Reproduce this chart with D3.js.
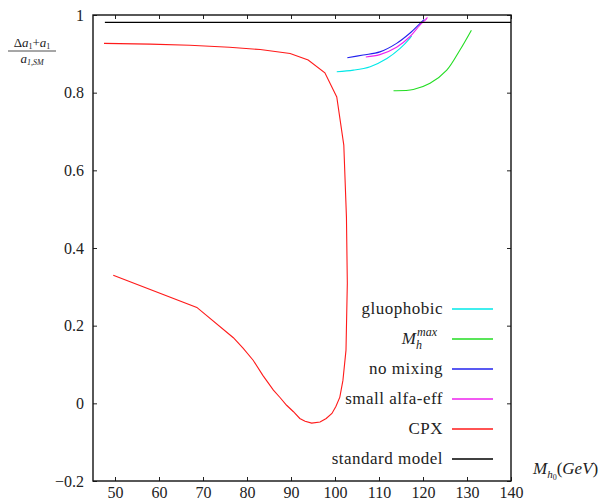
<!DOCTYPE html>
<html>
<head>
<meta charset="utf-8">
<script src="https://cdn.jsdelivr.net/npm/d3@7"></script>
<style>
  body { margin: 0; background: #fff; }
  svg text { font-family: "Liberation Serif", "Times New Roman", "DejaVu Serif", serif !important; fill: #222; }
</style>
</head>
<body>
<svg id="chart" width="609" height="502" font-family="Liberation Serif"></svg>
<script>
// === Data ===
const xTicks = [50, 60, 70, 80, 90, 100, 110, 120, 130, 140];
const yTicks = [-0.2, 0, 0.2, 0.4, 0.6, 0.8, 1];

const smX = [47.7, 140];
const smY = [0.981, 0.981];

const cpxX = [47.5, 58, 67, 76, 83, 89.8, 93.9, 97.7, 100.4, 102.0, 102.6, 102.8, 102.5, 101.8, 101.1, 100.2, 99.3, 98.0, 96.6, 94.7, 93.2, 92.0, 90.5, 89.0, 87.5, 86.0, 83.6, 81.4, 79.1, 76.9, 68.6, 49.6];
const cpxY = [0.927, 0.925, 0.922, 0.917, 0.911, 0.901, 0.884, 0.851, 0.789, 0.665, 0.48, 0.309, 0.137, 0.059, 0.016, -0.008, -0.026, -0.039, -0.048, -0.051, -0.046, -0.039, -0.021, -0.005, 0.015, 0.034, 0.072, 0.111, 0.142, 0.169, 0.247, 0.330];

const smallX = [107.0, 110.2, 114.0, 117.0, 119.3, 120.7, 121.0, 120.6];
const smallY = [0.892, 0.898, 0.917, 0.944, 0.974, 0.989, 0.993, 0.990];

const noMixX = [102.8, 106.4, 110.2, 114.0, 117.0, 119.3, 120.3];
const noMixY = [0.890, 0.897, 0.905, 0.927, 0.953, 0.978, 0.989];

const mhmaxX = [113.3, 117.8, 121.6, 125.4, 128.4, 131.0];
const mhmaxY = [0.805, 0.808, 0.824, 0.858, 0.910, 0.961];

const gluoX = [100.4, 104.2, 108.0, 111.8, 114.8, 117.0, 117.4];
const gluoY = [0.854, 0.858, 0.867, 0.888, 0.914, 0.940, 0.946];

const series = [
  { key: "gluophobic", xs: gluoX, ys: gluoY, color: "#00e8e8", smooth: true },
  { key: "mhmax", xs: mhmaxX, ys: mhmaxY, color: "#22dd22", smooth: true },
  { key: "no mixing", xs: noMixX, ys: noMixY, color: "#2222ee", smooth: true },
  { key: "small alfa-eff", xs: smallX, ys: smallY, color: "#ee22ee", smooth: true },
  { key: "CPX", xs: cpxX, ys: cpxY, color: "#ff1a1a", smooth: false },
  { key: "standard model", xs: smX, ys: smY, color: "#000", smooth: false }
];

// === Layout ===
const svg = d3.select("#chart");
const margin = { left: 93, right: 98, top: 15, bottom: 21 };
const W = 609, H = 502;
const x = d3.scaleLinear().domain([45, 140]).range([margin.left, W - margin.right]);
const y = d3.scaleLinear().domain([-0.2, 1]).range([H - margin.bottom, margin.top]);

const fmt = v => (v === 0 ? "0" : v === 1 ? "1" : d3.format(".1f")(v).replace("-", "\u2212"));

// axes with inward ticks on every side
svg.append("g").attr("transform", `translate(0,${y(-0.2)})`)
  .call(d3.axisBottom(x).tickValues(xTicks).tickSize(-4).tickPadding(6).tickFormat(d3.format("d")))
  .call(g => g.select(".domain").remove())
  .call(g => g.selectAll("text").attr("font-size", 16));
svg.append("g").attr("transform", `translate(0,${y(1)})`)
  .call(d3.axisTop(x).tickValues(xTicks).tickSize(-4).tickFormat(""))
  .call(g => g.select(".domain").remove());
svg.append("g").attr("transform", `translate(${x(45)},0)`)
  .call(d3.axisLeft(y).tickValues(yTicks).tickSize(-4).tickPadding(9).tickFormat(fmt))
  .call(g => g.select(".domain").remove())
  .call(g => g.selectAll("text").attr("font-size", 16));
svg.append("g").attr("transform", `translate(${x(140)},0)`)
  .call(d3.axisRight(y).tickValues(yTicks).tickSize(-4).tickFormat(""))
  .call(g => g.select(".domain").remove());
svg.selectAll("g").attr("font-family", null);
svg.selectAll(".tick line").attr("stroke", "#222");

// frame
svg.append("rect")
  .attr("x", x(45)).attr("y", y(1))
  .attr("width", x(140) - x(45)).attr("height", y(-0.2) - y(1))
  .attr("fill", "none").attr("stroke", "#111").attr("stroke-width", 1.4);

// curves
const smoothLine = d3.line().curve(d3.curveCatmullRom.alpha(0.5));
const straightLine = d3.line();
series.forEach(s => {
  const pts = s.xs.map((v, i) => [x(v), y(s.ys[i])]);
  svg.append("path").attr("d", (s.smooth ? smoothLine : straightLine)(pts))
    .attr("fill", "none").attr("stroke", s.color).attr("stroke-width", 1.1);
});

// legend
const legX = 443, legY0 = 309, legStep = 30;
series.forEach((s, i) => {
  const ly = legY0 + i * legStep;
  svg.append("line").attr("x1", legX + 9).attr("x2", legX + 50)
    .attr("y1", ly).attr("y2", ly).attr("stroke", s.color).attr("stroke-width", 1.3);
  if (s.key === "mhmax") {
    svg.append("text").attr("x", legX - 27).attr("y", ly + 5).attr("text-anchor", "end")
      .attr("font-size", 17).attr("font-style", "italic").text("M");
    svg.append("text").attr("x", legX - 27).attr("y", ly + 10).attr("font-size", 12).attr("font-style", "italic").text("h");
    svg.append("text").attr("x", legX - 26).attr("y", ly - 3).attr("font-size", 12).attr("font-style", "italic").text("max");
  } else {
    svg.append("text").attr("x", legX).attr("y", ly + 5).attr("text-anchor", "end")
      .attr("font-size", 17).attr("letter-spacing", 0.5).text(s.key);
  }
});

// y label (fraction)
const fx = 32;
const num = svg.append("text").attr("x", fx).attr("y", 47).attr("text-anchor", "middle").attr("font-size", 13);
num.append("tspan").text("\u0394");
num.append("tspan").attr("font-style", "italic").text("a");
num.append("tspan").attr("font-size", 8).attr("dy", 2).text("1");
num.append("tspan").attr("dy", -2).text("+");
num.append("tspan").attr("font-style", "italic").text("a");
num.append("tspan").attr("font-size", 8).attr("dy", 2).text("1");
svg.append("line").attr("x1", 8).attr("x2", 56).attr("y1", 51).attr("y2", 51).attr("stroke", "#222").attr("stroke-width", 0.8);
const den = svg.append("text").attr("x", fx).attr("y", 63).attr("text-anchor", "middle").attr("font-size", 13);
den.append("tspan").attr("font-style", "italic").text("a");
den.append("tspan").attr("font-size", 8).attr("dy", 2).attr("font-style", "italic").text("1,SM");

// x label
const xl = svg.append("text").attr("x", 533).attr("y", 474).attr("font-size", 17).attr("font-style", "italic");
xl.append("tspan").text("M");
xl.append("tspan").attr("font-size", 11).attr("dy", 4).text("h");
xl.append("tspan").attr("font-size", 8).attr("font-style", "normal").attr("dy", 2).text("0");
xl.append("tspan").attr("dy", -6).attr("font-style", "normal").text("(");
xl.append("tspan").text("GeV");
xl.append("tspan").attr("font-style", "normal").text(")");
</script>
</body>
</html>
